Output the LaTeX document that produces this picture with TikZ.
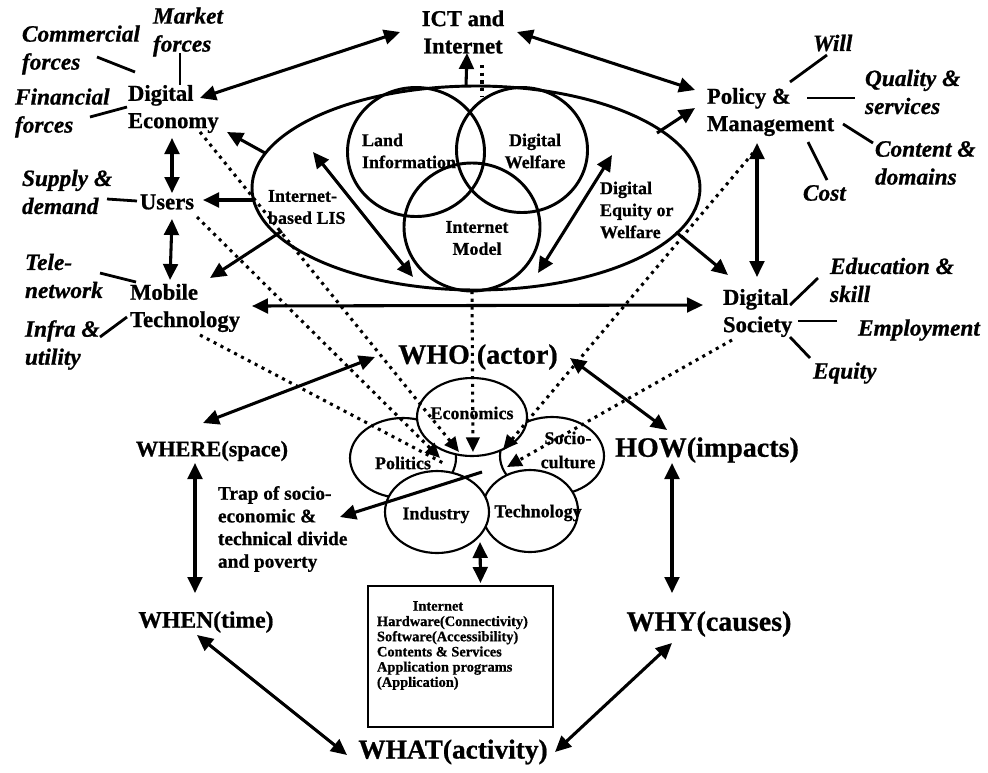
\documentclass[tikz,border=0pt]{standalone}
\usepackage{fontspec}
\setmainfont{Liberation Serif}[BoldFeatures={FakeBold=0.8},BoldItalicFeatures={FakeBold=0.8}]
\usetikzlibrary{arrows.meta,shapes.geometric,calc}
\begin{document}
\begin{tikzpicture}[x=0.75pt,y=-0.75pt,
 every node/.style={inner sep=0pt, outer sep=0pt},
 mainf/.style={font=\fontsize{17}{20.5}\selectfont\bfseries, align=center},
 mainl/.style={mainf, align=left, anchor=west},
 wh/.style={font=\fontsize{21}{24}\selectfont\bfseries},
 lab/.style={font=\fontsize{17.5}{21}\selectfont\bfseries\itshape, align=left, anchor=west},
 inl/.style={font=\fontsize{13.5}{16.5}\selectfont\bfseries, align=center},
 inll/.style={inl, align=left, anchor=west},
 boxf/.style={font=\fontsize{10.8}{11.4}\selectfont\bfseries},
 venn/.style={draw, ellipse, line width=2.2pt},
 oval/.style={draw, ellipse, line width=1.6pt, fill=white},
 arr/.style={line width=2.3pt, -{Triangle[length=12pt,width=11pt]}},
 darr/.style={line width=2.3pt, {Triangle[length=12pt,width=11pt]}-{Triangle[length=12pt,width=11pt]}},
 tieline/.style={line width=2.1pt},
 dotline/.style={line width=2.3pt, dash pattern=on 2.3pt off 3.5pt},
 dotarr/.style={dotline, -{Triangle[length=11pt,width=10pt]}},
]
\fill[white] (0,0) rectangle (988,772);
\useasboundingbox (0,0) rectangle (988,772);

% big ellipse and Venn circles
\node[venn, minimum width=336pt, minimum height=153pt] (big) at (476,188) {};
\node[venn, minimum width=102.75pt, minimum height=96.75pt] (land) at (416,152) {};
\node[venn, minimum width=98.25pt, minimum height=93.75pt] (welf) at (522,150) {};
\node[venn, minimum width=102pt, minimum height=96pt] (imod) at (472,227) {};

\node[inll] (tland) at (362,151) {Land\\Information};
\node[inl] (twelf) at (535,151) {Digital\\Welfare};
\node[inl] (timod) at (477,238) {Internet\\Model};
\node[inll] (tlis) at (268,207) {Internet-\\based LIS};
\node[inll] (tequ) at (600,210) {Digital\\Equity or\\Welfare};

% main text nodes
\node[mainf] (ict) at (463,32) {ICT and\\Internet};
\node[mainl] (de) at (128,109) {Digital\\Economy};
\node[mainf] (users) at (167,202) {Users};
\node[mainl] (mob) at (130,308) {Mobile\\Technology};
\node[mainl] (pol) at (707,112) {Policy \&\\Management};
\node[mainl] (soc) at (723,313) {Digital\\Society};

\node[wh] (who) at (478,357) {WHO (actor)};
\node[font=\fontsize{16.7}{20}\selectfont\bfseries] (where) at (212,451) {WHERE(space)};
\node[wh] (how) at (707,450) {HOW(impacts)};
\node[font=\fontsize{17.7}{20}\selectfont\bfseries] (when) at (206,622) {WHEN(time)};
\node[wh] (why) at (709,624) {WHY(causes)};
\node[font=\fontsize{20.5}{24}\selectfont\bfseries] (what) at (453,752) {WHAT(activity)};
\node[font=\fontsize{14.5}{17}\selectfont\bfseries, align=left, anchor=west] (trap) at (218,529) {Trap of socio-\\economic \&\\technical divide\\and poverty};

% lower ovals
\node[oval, minimum width=79.5pt, minimum height=60pt] (polit) at (403,458) {};
\node[oval, minimum width=78pt, minimum height=58.5pt] (socio) at (552,456) {};
\node[oval, minimum width=72pt, minimum height=61.5pt] (tech) at (530,511) {};
\node[oval, minimum width=78pt, minimum height=61.5pt] (ind) at (437,512) {};
\node[oval, minimum width=82.5pt, minimum height=58.5pt] (econ) at (472,417) {};
\node[inl] (teco) at (472,413) {Economics};
\node[inl] (tpol) at (403,463) {Politics};
\node[inl, font=\fontsize{13.5}{18}\selectfont\bfseries] (tsoc) at (568,450) {Socio-\\culture};
\node[inl] (tind) at (436,515) {Industry};
\node[inl] (ttech) at (538,513) {Technology};

% box
\node[draw, line width=1.5pt, minimum width=138.75pt, minimum height=105.75pt] (box) at (460.5,656.5) {};
\node[boxf] (boxt) at (438,606) {Internet};
\node[boxf, align=left, anchor=north west] (boxl) at (377,616) {Hardware(Connectivity)\\Software(Accessibility)\\Contents \& Services\\Application programs\\(Application)};

% italic labels
\node[lab] (market) at (153,32) {Market\\forces};
\node[lab] (comm) at (22,50) {Commercial\\forces};
\node[lab] (fin) at (15,113) {Financial\\forces};
\node[lab] (supply) at (22,192) {Supply \&\\demand};
\node[lab] (tele) at (25,276) {Tele-\\network};
\node[lab] (infra) at (25,345) {Infra \&\\utility};
\node[lab] (will) at (813,43) {Will};
\node[lab] (qual) at (865,92) {Quality \&\\services};
\node[lab] (cont) at (875,163) {Content \&\\domains};
\node[lab] (cost) at (803,193) {Cost};
\node[lab] (edu) at (830,280) {Education \&\\skill};
\node[lab] (empl) at (858,330) {Employment};
\node[lab] (equi) at (813,373) {Equity};

% tie lines
\draw[tieline] ($(market.west)+(27,21)$) -- ($(de.west)+(52,-24)$);
\draw[tieline] ($(comm.west)+(75,7)$) -- ($(de.west)+(7,-37)$);
\draw[tieline] ($(fin.west)+(75,4)$) -- ($(de.west)+(-1,-2)$);
\draw[tieline] ($(supply.west)+(85,7)$) -- ($(users)+(-30,-1)$);
\draw[tieline] ($(tele.west)+(75,-3)$) -- ($(mob.west)+(6,-26)$);
\draw[tieline] ($(infra.west)+(75,-8)$) -- ($(mob.west)+(-3,9)$);
\draw[tieline] ($(pol.west)+(83,-30)$) -- ($(will.west)+(14,12)$);
\draw[tieline] ($(pol.west)+(100,-14)$) -- ($(qual.west)+(-10,6)$);
\draw[tieline] ($(pol.west)+(136,12)$) -- ($(cont.west)+(-2,-20)$);
\draw[tieline] ($(pol.west)+(101,30)$) -- ($(cost.west)+(24,-13)$);
\draw[tieline] ($(edu.west)+(-12,-2)$) -- ($(soc.west)+(67,-8)$);
\draw[tieline] ($(empl.west)+(-21,-9)$) -- ($(soc.west)+(75,8)$);
\draw[tieline] ($(soc.west)+(67,24)$) -- ($(equi.west)+(-3,-15)$);

% solid arrows
\draw[darr] ($(de.west)+(72,-11)$) -- ($(ict)+(-63,0)$);
\draw[darr] ($(ict)+(54,0)$) -- ($(pol.west)+(-12,-22)$);
\draw[arr] ($(big.north)+(-10,0)$) -- ($(ict)+(4,21)$);
\draw[dotline] ($(ict)+(19,33)$) -- ($(big.north)+(6,11)$);
\draw[arr] ($(big)+(-211,-35)$) -- ($(de.west)+(99,23)$);
\draw[arr] ($(big)+(-223,12)$) -- ($(users)+(36,-2)$);
\draw[arr] ($(big)+(-194,43)$) -- ($(mob.west)+(80,-30)$);
\draw[darr] ($(big)+(-163,-36)$) -- ($(big)+(-63,89)$);
\draw[darr] ($(big)+(136,-33)$) -- ($(big)+(62,85)$);
\draw[arr] ($(big)+(181,-55)$) -- ($(pol.west)+(-12,-4)$);
\draw[arr] ($(big)+(200,44)$) -- ($(soc.west)+(5,-38)$);
\draw[darr] ($(pol.west)+(50,31)$) -- ($(soc.west)+(34,-36)$);
\draw[darr] ($(mob.west)+(122,-2)$) -- ($(soc.west)+(-20,-8)$);
\draw[darr] ($(de.west)+(44,29)$) -- ($(users)+(5,-9)$);
\draw[darr] ($(users)+(5,17)$) -- ($(mob.west)+(40,-28)$);
\draw[darr] ($(who)+(-103,0)$) -- ($(where)+(-9,-28)$);
\draw[darr] ($(who)+(92,1)$) -- ($(how)+(-40,-20)$);
\draw[darr] ($(where)+(-17,12)$) -- ($(when)+(-11,-29)$);
\draw[darr] ($(how)+(-35,13)$) -- ($(why)+(-37,-31)$);
\draw[darr] ($(when)+(-9,13)$) -- ($(what)+(-106,3)$);
\draw[darr] ($(what)+(102,0)$) -- ($(why)+(-37,19)$);
\draw[darr] ($(ind)+(43,30)$) -- ($(box.north)+(20,-3)$);
\draw[arr] ($(ind)+(45,-40)$) -- ($(trap.west)+(122,-12)$);

% dotted arrows
\draw[dotarr] ($(de.west)+(72,23)$) -- ($(econ)+(-13,35)$);
\draw[dotarr] ($(users)+(30,15)$) -- ($(polit)+(37,0)$);
\draw[dotline] ($(mob.west)+(70,27)$) -- ($(polit)+(42,6)$);
\draw[dotarr] (imod.south) -- ($(econ)+(1,35)$);
\draw[dotarr] ($(pol.west)+(46,41)$) -- ($(econ)+(31,33)$);
\draw[dotarr] ($(soc.west)+(9,27)$) -- ($(socio)+(-45,11)$);
\end{tikzpicture}
\end{document}
